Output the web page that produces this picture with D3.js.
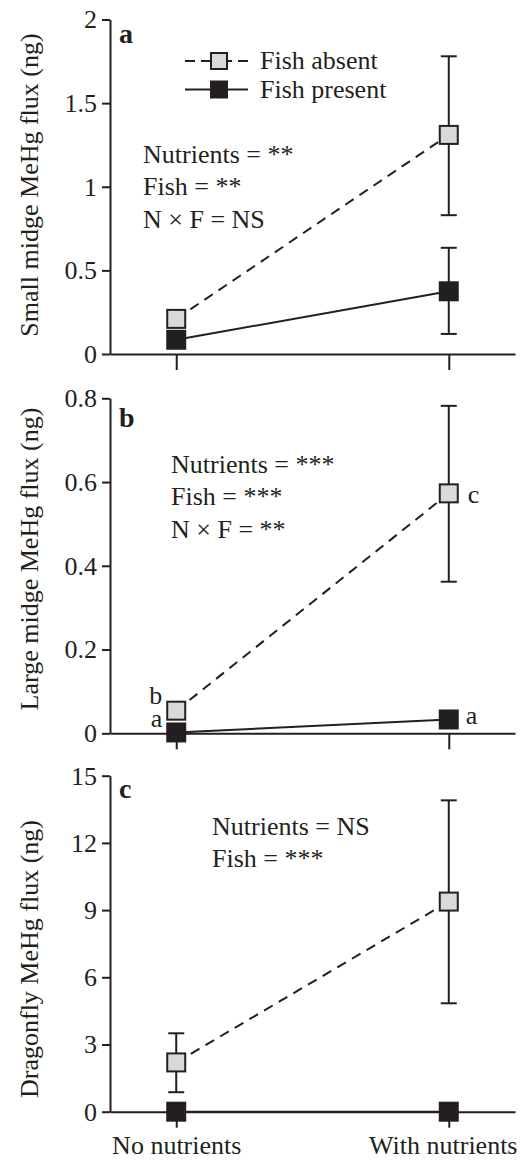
<!DOCTYPE html>
<html>
<head>
<meta charset="utf-8">
<script src="https://cdn.jsdelivr.net/npm/d3@7"></script>
<style>
  html, body { margin: 0; padding: 0; background: #fff; }
  svg { display: block; }
  text { font-family: "Liberation Serif", "Times New Roman", serif; fill: #231f20; }
</style>
</head>
<body>
<script>
// ---------------- data ----------------
const categories = ["No nutrients", "With nutrients"];
const seriesNames = ["Fish absent", "Fish present"];

// Panel a: small midge MeHg flux (ng)
const smallAbsentMean = [0.21, 1.31];
const smallAbsentLow  = [0.18, 0.83];
const smallAbsentHigh = [0.24, 1.78];
const smallPresentMean = [0.085, 0.375];
const smallPresentLow  = [0.06, 0.12];
const smallPresentHigh = [0.11, 0.635];
const smallTicks = [0, 0.5, 1, 1.5, 2];
const smallTickLabels = ["0", "0.5", "1", "1.5", "2"];
const smallStats = ["Nutrients = **", "Fish = **", "N \u00d7 F = NS"];

// Panel b: large midge MeHg flux (ng)
const largeAbsentMean = [0.054, 0.573];
const largeAbsentLow  = [0.04, 0.362];
const largeAbsentHigh = [0.068, 0.782];
const largePresentMean = [0.002, 0.033];
const largePresentLow  = [0.0, 0.025];
const largePresentHigh = [0.006, 0.041];
const largeTicks = [0, 0.2, 0.4, 0.6, 0.8];
const largeTickLabels = ["0", "0.2", "0.4", "0.6", "0.8"];
const largeStats = ["Nutrients = ***", "Fish = ***", "N \u00d7 F = **"];
const largeAbsentLetters = ["b", "c"];
const largePresentLetters = ["a", "a"];

// Panel c: dragonfly MeHg flux (ng)
const dragonAbsentMean = [2.2, 9.38];
const dragonAbsentLow  = [0.87, 4.84];
const dragonAbsentHigh = [3.5, 13.9];
const dragonPresentMean = [0, 0];
const dragonPresentLow  = [0, 0];
const dragonPresentHigh = [0, 0];
const dragonTicks = [0, 3, 6, 9, 12, 15];
const dragonTickLabels = ["0", "3", "6", "9", "12", "15"];
const dragonStats = ["Nutrients = NS", "Fish = ***"];

// ---------------- layout ----------------
const W = 522, H = 1161;
const ink = "#231f20";
const grayFill = "#d9d9d9";
const FS = 26;
const FONT = '"Liberation Serif", "Times New Roman", serif';

const svg = d3.select("body").append("svg").attr("width", W).attr("height", H);

const x = d3.scalePoint().domain(categories).range([110, 515]).padding(0.243);

const panels = [
  { letter: "a", title: "Small midge MeHg flux (ng)", top: 19.5, bottom: 354, titleMid: 185,
    max: 2, ticks: smallTicks, tickLabels: smallTickLabels,
    absent: [smallAbsentMean, smallAbsentLow, smallAbsentHigh],
    present: [smallPresentMean, smallPresentLow, smallPresentHigh],
    stats: smallStats, statsX: 143, statsY: 163, legend: true, xLabels: false,
    letterBase: 43 },
  { letter: "b", title: "Large midge MeHg flux (ng)", top: 398.3, bottom: 733.3, titleMid: 559,
    max: 0.8, ticks: largeTicks, tickLabels: largeTickLabels,
    absent: [largeAbsentMean, largeAbsentLow, largeAbsentHigh],
    present: [largePresentMean, largePresentLow, largePresentHigh],
    stats: largeStats, statsX: 171, statsY: 473, legend: false, xLabels: false,
    letterBase: 426.7, groupLetters: true },
  { letter: "c", title: "Dragonfly MeHg flux (ng)", top: 775.7, bottom: 1111.7, titleMid: 959,
    max: 15, ticks: dragonTicks, tickLabels: dragonTickLabels,
    absent: [dragonAbsentMean, dragonAbsentLow, dragonAbsentHigh],
    present: [dragonPresentMean, dragonPresentLow, dragonPresentHigh],
    stats: dragonStats, statsX: 212, statsY: 835, legend: false, xLabels: true,
    letterBase: 798.3 }
];

const MS = 18;   // marker size
const CAP = 16;  // error bar cap width

panels.forEach(p => {
  const g = svg.append("g");
  const y = d3.scaleLinear().domain([0, p.max]).range([p.bottom, p.top]);

  // y axis
  const yAxis = d3.axisLeft(y).tickValues(p.ticks)
    .tickFormat((d, i) => p.tickLabels[i]).tickSize(8).tickSizeOuter(0).tickPadding(5);
  const ya = g.append("g").attr("transform", "translate(110,0)").call(yAxis)
    .attr("font-family", FONT).attr("font-size", FS);
  ya.select(".domain").attr("stroke", ink).attr("stroke-width", 2);
  ya.selectAll(".tick line").attr("stroke", ink).attr("stroke-width", 2);
  ya.selectAll(".tick text").attr("fill", ink);

  // x axis
  const xAxis = d3.axisBottom(x).tickSize(16).tickSizeOuter(0).tickPadding(8)
    .tickFormat(p.xLabels ? (d => d) : "");
  const xa = g.append("g").attr("transform", `translate(0,${p.bottom})`).call(xAxis)
    .attr("font-family", FONT).attr("font-size", FS);
  xa.select(".domain").attr("stroke", ink).attr("stroke-width", 2);
  xa.selectAll(".tick line").attr("stroke", ink).attr("stroke-width", 2);
  xa.selectAll(".tick text").attr("fill", ink)
    .attr("dx", (d, i) => i === categories.length - 1 ? -6 : 0);

  // y title
  g.append("text")
    .attr("transform", `translate(38,${p.titleMid}) rotate(-90)`)
    .attr("text-anchor", "middle").attr("font-size", FS).text(p.title);

  // panel letter
  g.append("text").attr("x", 119).attr("y", p.letterBase)
    .attr("font-size", 28).attr("font-weight", "bold").text(p.letter);

  // stats text
  p.stats.forEach((s, i) => {
    g.append("text").attr("x", p.statsX).attr("y", p.statsY + i * 32.3)
      .attr("font-size", FS).text(s);
  });

  const series = [
    { vals: p.absent, dash: "10,7", fill: grayFill },
    { vals: p.present, dash: null, fill: ink }
  ];

  // lines
  series.forEach(s => {
    const line = d3.line().x((d, i) => x(categories[i])).y(d => y(d));
    g.append("path").datum(s.vals[0]).attr("d", line)
      .attr("fill", "none").attr("stroke", ink).attr("stroke-width", 2)
      .attr("stroke-dasharray", s.dash);
  });

  // error bars
  series.forEach(s => {
    categories.forEach((c, i) => {
      const cx = x(c), lo = y(s.vals[1][i]), hi = y(s.vals[2][i]);
      g.append("line").attr("x1", cx).attr("x2", cx).attr("y1", lo).attr("y2", hi)
        .attr("stroke", ink).attr("stroke-width", 2);
      [lo, hi].forEach(yy => {
        g.append("line").attr("x1", cx - CAP / 2).attr("x2", cx + CAP / 2)
          .attr("y1", yy).attr("y2", yy).attr("stroke", ink).attr("stroke-width", 2);
      });
    });
  });

  // markers
  series.forEach(s => {
    categories.forEach((c, i) => {
      g.append("rect").attr("x", x(c) - MS / 2).attr("y", y(s.vals[0][i]) - MS / 2)
        .attr("width", MS).attr("height", MS)
        .attr("fill", s.fill).attr("stroke", ink).attr("stroke-width", 2);
    });
  });

  // group letters (panel b)
  if (p.groupLetters) {
    const aM = p.absent[0], pM = p.present[0];
    g.append("text").attr("x", x(categories[0]) - 14).attr("y", y(aM[0]) - 7)
      .attr("text-anchor", "end").attr("font-size", FS).text(largeAbsentLetters[0]);
    g.append("text").attr("x", x(categories[0]) - 14).attr("y", y(pM[0]) - 5)
      .attr("text-anchor", "end").attr("font-size", FS).text(largePresentLetters[0]);
    g.append("text").attr("x", x(categories[1]) + 19).attr("y", y(aM[1]) + 10)
      .attr("font-size", FS).text(largeAbsentLetters[1]);
    g.append("text").attr("x", x(categories[1]) + 17).attr("y", y(pM[1]) + 5)
      .attr("font-size", FS).text(largePresentLetters[1]);
  }

  // legend (panel a)
  if (p.legend) {
    const rows = [
      { name: seriesNames[0], y: 61, dash: "10,6", fill: grayFill },
      { name: seriesNames[1], y: 89.5, dash: null, fill: ink }
    ];
    const lx0 = 185, lx1 = 248, lc = 219;
    rows.forEach(r => {
      g.append("line").attr("x1", lx0).attr("x2", lc).attr("y1", r.y).attr("y2", r.y)
        .attr("stroke", ink).attr("stroke-width", 2).attr("stroke-dasharray", r.dash);
      g.append("line").attr("x1", lx1).attr("x2", lc).attr("y1", r.y).attr("y2", r.y)
        .attr("stroke", ink).attr("stroke-width", 2).attr("stroke-dasharray", r.dash);
      g.append("rect").attr("x", lc - 8).attr("y", r.y - 8).attr("width", 16).attr("height", 16)
        .attr("fill", r.fill).attr("stroke", ink).attr("stroke-width", 2);
      g.append("text").attr("x", 260).attr("y", r.y + 8).attr("font-size", FS).text(r.name);
    });
  }
});
</script>
</body>
</html>
